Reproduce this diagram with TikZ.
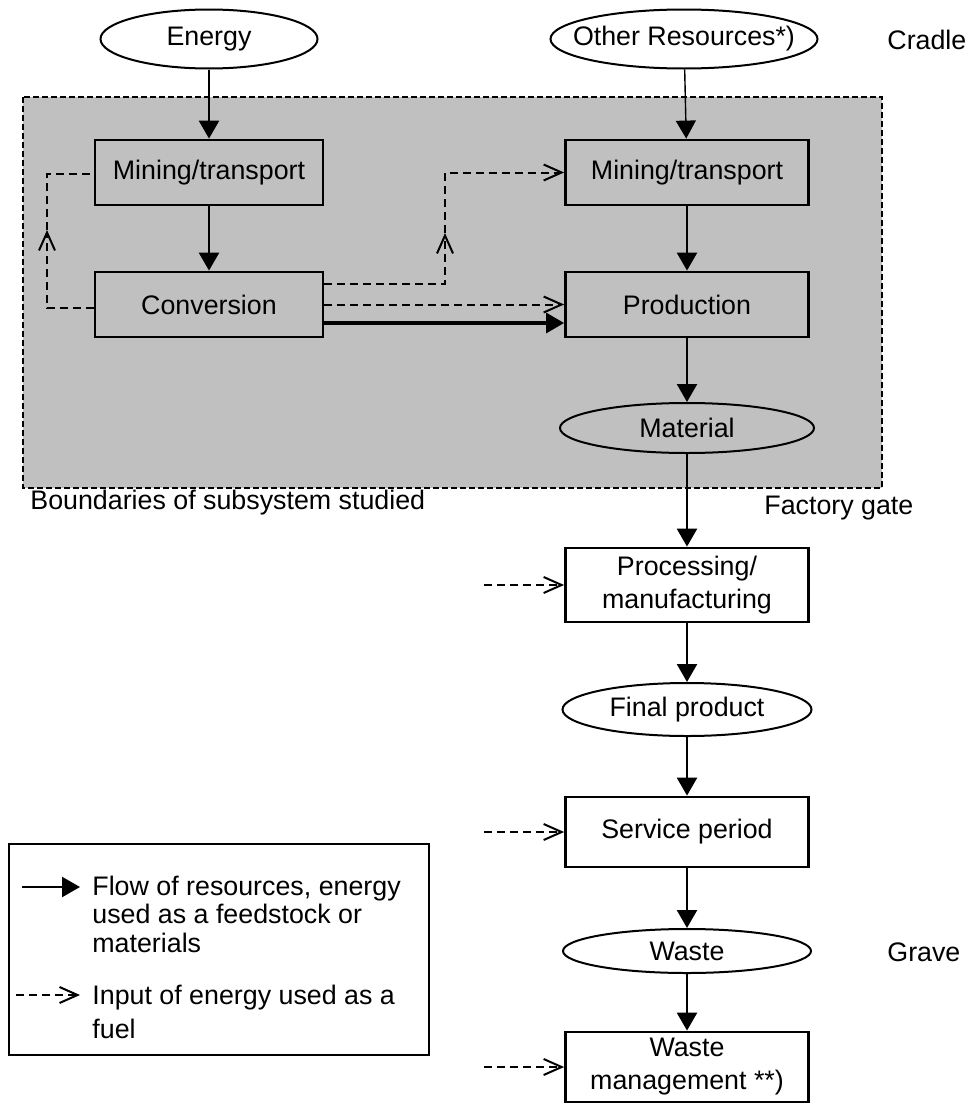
\documentclass[tikz,border=0pt]{standalone}
\usepackage{fontspec}
\setmainfont{Liberation Sans}
\usepackage{tikz}
\usetikzlibrary{arrows.meta,shapes,calc,positioning}
\definecolor{boundgray}{RGB}{192,192,192}
\tikzstyle{flow}    =[line width=1.25pt,
                      -{Triangle[length=9pt,width=10pt]}]
\tikzstyle{fuel}    =[line width=1pt, dash pattern=on 4pt off 2.5pt,
                      -{Straight Barb[length=9pt,width=8pt]}]
\tikzstyle{stepbox} =[rectangle, draw, line width=1.4pt, align=center,
                      minimum width=121.5pt, minimum height=32.5pt,
                      inner sep=2pt]
\tikzstyle{oval}    =[ellipse, draw, line width=1pt, inner sep=0pt,
                      inner xsep=-20pt]
\tikzstyle{tag}     =[anchor=west, inner sep=0pt]
\tikzstyle{boundary}=[draw, fill=boundgray, line width=1.4pt,
                      dash pattern=on 3pt off 1.5pt]
\tikzstyle{legendbox}=[rectangle, draw, line width=1.2pt,
                      minimum width=210pt, minimum height=105.5pt]

\begin{document}
\begin{tikzpicture}[x=0.5pt, y=-0.5pt, font=\fontsize{13.4}{16.5}\selectfont]
        \useasboundingbox (0,0) rectangle (966,1103);
        \draw[boundary] (23,97) rectangle (882,488);

        \node[oval, minimum width=108.5pt, minimum height=29.5pt] (energy) at (209,39) {Energy};
        \node[oval, minimum width=133.5pt, minimum height=29.5pt] (other) at (684,39) {Other Resources*)};
        \node[tag] (cradle) at (887,40) {Cradle};

        \node[stepbox, minimum width=114pt] (mineL) at (209,172.5) {Mining/transport};
        \node[stepbox] (mineR) at (687,172.5) {Mining/transport};
        \node[stepbox, minimum width=114pt] (conv) at (209,304.5) {Conversion};
        \node[stepbox] (prod) at (687,304.5) {Production};
        \node[oval, minimum width=127pt, minimum height=25pt] (mat) at (687,428) {Material};

        \node[tag] (bounds) at (30,503) {Boundaries of subsystem studied};
        \node[tag] (gate) at (764,508) {Factory gate};

        \node[stepbox, minimum height=37pt] (proc) at (687,585) {Processing/\\manufacturing};
        \node[oval, minimum width=124.5pt, minimum height=26.5pt] (final) at (687,709.5) {Final product};
        \node[stepbox, minimum height=35pt] (serv) at (687,832) {Service period};
        \node[oval, minimum width=124pt, minimum height=22pt] (waste) at (687,951) {Waste};
        \node[tag] (grave) at (887,952) {Grave};
        \node[stepbox, minimum height=35pt] (wmgmt) at (687,1067) {Waste\\management **)};

        \foreach \a/\b in {energy/mineL, mineL/conv, mineR/prod, prod/mat,
                           mat/proc, proc/final, final/serv, serv/waste, waste/wmgmt}{
            \draw[flow] (\a) to (\b);
        }
        \draw[flow, line width=0.7pt] (other) to (mineR);
        \draw[flow, line width=1.6pt] ($(conv.east)+(0,18.5)$) to ($(prod.west)+(0,18.5)$);

        \draw[fuel] (conv.east) to (prod.west);
        \coordinate (riseR) at (445,233);
        \draw[fuel] ($(conv.east)+(0,-20.5)$) -| (riseR);
        \draw[fuel] (riseR) |- (mineR.west);
        \coordinate (riseL) at (47,230);
        \draw[fuel] ($(conv.west)+(0,3.5)$) -| (riseL);
        \draw[fuel, -] (riseL) |- ($(mineL.west)+(0,1.5)$);

        \foreach \n in {proc, serv, wmgmt}{
            \coordinate (\n in) at ($(\n.west)+(-80,0)$);
            \draw[fuel] (\n in) to (\n.west);
        }

        \node[legendbox] (legend) at (219,949.5) {};
        \node[tag, inner xsep=6pt, align=left, font=\fontsize{13.4}{14.25}\selectfont]
            (legflow) at (80,914) {Flow of resources, energy\\used as a feedstock or\\materials};
        \node[tag, inner xsep=6pt, align=left, font=\fontsize{13.4}{17}\selectfont]
            (legfuel) at (80,1012) {Input of energy used as a\\fuel};
        \coordinate (keyflow) at (22,887);
        \coordinate (keyfuel) at (16,995);
        \draw[flow] (keyflow) to (keyflow -| legflow.west);
        \draw[fuel] (keyfuel) to (keyfuel -| legfuel.west);
    \end{tikzpicture}
\end{document}
